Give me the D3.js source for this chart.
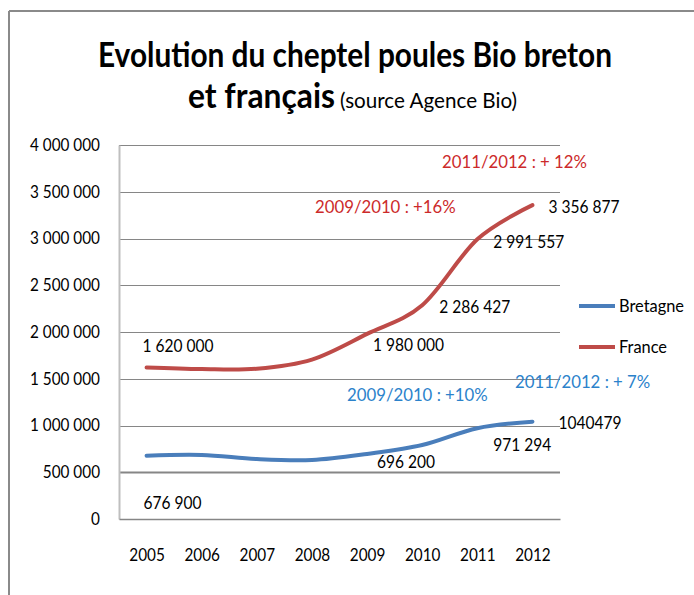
<!DOCTYPE html>
<html><head><meta charset="utf-8">
<script src="https://cdn.jsdelivr.net/npm/d3@7"></script>
<style>
html,body{margin:0;padding:0;background:#fff;}
text{font-family:Lato,"Open Sans",sans-serif;}
</style></head>
<body>
<svg id="chart" width="694" height="595"></svg>
<script>
const years = ["2005","2006","2007","2008","2009","2010","2011","2012"];
const bretagne = [676900, 685000, 641000, 631000, 696200, 791000, 971294, 1040479];
const france = [1620000, 1603000, 1607000, 1705000, 1980000, 2286427, 2991557, 3356877];
const yTicks = [0, 500000, 1000000, 1500000, 2000000, 2500000, 3000000, 3500000, 4000000];
const seriesNames = ["Bretagne", "France"];
const colors = {Bretagne: "#4A7EBB", France: "#BE4B48"};
const dataLabels = [
  ["France", 0, "1 620 000"], ["France", 4, "1 980 000"], ["France", 5, "2 286 427"],
  ["France", 6, "2 991 557"], ["France", 7, "3 356 877"],
  ["Bretagne", 0, "676 900"], ["Bretagne", 4, "696 200"], ["Bretagne", 6, "971 294"],
  ["Bretagne", 7, "1040479"]
];
const annotations = [
  ["France", "2011/2012 : + 12%"], ["France", "2009/2010 : +16%"],
  ["Bretagne", "2009/2010 : +10%"], ["Bretagne", "2011/2012 : + 7%"]
];

const svg = d3.select("#chart");
const L = 119, R = 560, T = 145, B = 519;
const x = d3.scalePoint().domain(years).range([L, R]).padding(0.5);
const y = d3.scaleLinear().domain([0, 4000000]).range([B, T]);
const fmt = v => d3.format(",")(v).replace(/,/g, " ");

// horizontally squeeze texts so a sample string gets a target width (Calibri-like narrow look)
function measure(str, size, weight) {
  const t = svg.append("text").attr("font-size", size).attr("font-weight", weight || "normal").text(str);
  const w = t.node().getComputedTextLength(); t.remove(); return w;
}
function squeeze(sel, k) {
  sel.each(function () {
    const w = this.getComputedTextLength();
    d3.select(this).attr("textLength", w * k).attr("lengthAdjust", "spacingAndGlyphs");
  });
}

// outer frame
svg.append("line").attr("x1", 9).attr("x2", 694).attr("y1", 11).attr("y2", 11).attr("stroke", "#8a8a8a").attr("stroke-width", 2);
svg.append("line").attr("x1", 9).attr("x2", 9).attr("y1", 11).attr("y2", 595).attr("stroke", "#8a8a8a").attr("stroke-width", 2);

// title
svg.append("text").attr("x", 355).attr("y", 67).attr("text-anchor", "middle")
  .attr("font-size", 34).attr("font-weight", "bold").attr("fill", "#000")
  .attr("textLength", 514).attr("lengthAdjust", "spacingAndGlyphs")
  .text("Evolution du cheptel poules Bio breton");
svg.append("text").attr("x", 188).attr("y", 108)
  .attr("font-size", 34).attr("font-weight", "bold").attr("fill", "#000")
  .attr("textLength", 147).attr("lengthAdjust", "spacingAndGlyphs").text("et français");
svg.append("text").attr("x", 340).attr("y", 108)
  .attr("font-size", 21).attr("fill", "#000")
  .attr("textLength", 177).attr("lengthAdjust", "spacingAndGlyphs").text("(source Agence Bio)");

// gridlines
svg.append("g").selectAll("line").data(yTicks.filter(d => d > 0)).join("line")
  .attr("x1", L).attr("x2", R).attr("y1", d => Math.round(y(d)) + 0.5).attr("y2", d => Math.round(y(d)) + 0.5)
  .attr("stroke", "#868686").attr("stroke-width", d => d === 500000 ? 2 : 1);

const FS = 17;
const kNum = 70 / measure("4 000 000", FS);

// y axis
const yAxis = d3.axisLeft(y).tickValues(yTicks).tickSize(0).tickPadding(19).tickFormat(fmt);
const gy = svg.append("g").attr("transform", `translate(${L},0)`).call(yAxis);
gy.select(".domain").attr("stroke", "#BFBFBF").attr("stroke-width", 2);
gy.selectAll("text").attr("font-size", FS).attr("fill", "#000").attr("font-family", "Lato,sans-serif");
squeeze(gy.selectAll("text"), kNum);

// x axis
const xAxis = d3.axisBottom(x).tickSize(0).tickPadding(30);
const gx = svg.append("g").attr("transform", `translate(0,${B})`).call(xAxis);
gx.select(".domain").attr("stroke", "#868686").attr("stroke-width", 1.5);
gx.selectAll("text").attr("font-size", FS).attr("fill", "#000").attr("font-family", "Lato,sans-serif");
squeeze(gx.selectAll("text"), kNum);

// lines
const line = d3.line().x((d, i) => x(years[i])).y(d => y(d)).curve(d3.curveCatmullRom.alpha(0));
const series = {Bretagne: bretagne, France: france};
seriesNames.forEach(n => {
  svg.append("path").datum(series[n]).attr("d", line).attr("fill", "none")
    .attr("stroke", colors[n]).attr("stroke-width", 4).attr("stroke-linecap", "round");
});

// data labels (offsets relative to point)
const labelOffsets = {
  "France0": [-4, -22], "France4": [6, 11], "France5": [17, 1], "France6": [16, 2], "France7": [16, 2],
  "Bretagne0": [-3, 47], "Bretagne4": [10, 8], "Bretagne6": [16, 17], "Bretagne7": [26, 1]
};
const dl = svg.append("g").selectAll("text").data(dataLabels).join("text")
  .attr("x", d => x(years[d[1]]) + labelOffsets[d[0] + d[1]][0])
  .attr("y", d => y(series[d[0]][d[1]]) + labelOffsets[d[0] + d[1]][1])
  .attr("font-size", 18).attr("fill", "#000").attr("dy", "0.35em")
  .text(d => d[2]);
squeeze(dl, 71 / measure("1 620 000", 18));

// annotations
const annPos = [[442, 162, "#CC2A2A"], [315, 207, "#CC2A2A"], [347, 395, "#2B82CB"], [515, 382, "#2B82CB"]];
const an = svg.append("g").selectAll("text").data(annotations).join("text")
  .attr("x", (d, i) => annPos[i][0]).attr("y", (d, i) => annPos[i][1]).attr("dy", "0.35em")
  .attr("font-size", 18).attr("fill", (d, i) => annPos[i][2]).text(d => d[1]);
squeeze(an, 145 / measure("2011/2012 : + 12%", 18));

// legend
const lg = svg.append("g").selectAll("g").data(seriesNames).join("g")
  .attr("transform", (d, i) => `translate(579,${306 + i * 41})`);
lg.append("line").attr("x1", 0).attr("x2", 36).attr("stroke", d => colors[d]).attr("stroke-width", 4);
const lt = lg.append("text").attr("x", 40).attr("dy", "0.35em").attr("font-size", 18).attr("fill", "#000").text(d => d);
squeeze(lt, 65 / measure("Bretagne", 18));
</script>
</body></html>
